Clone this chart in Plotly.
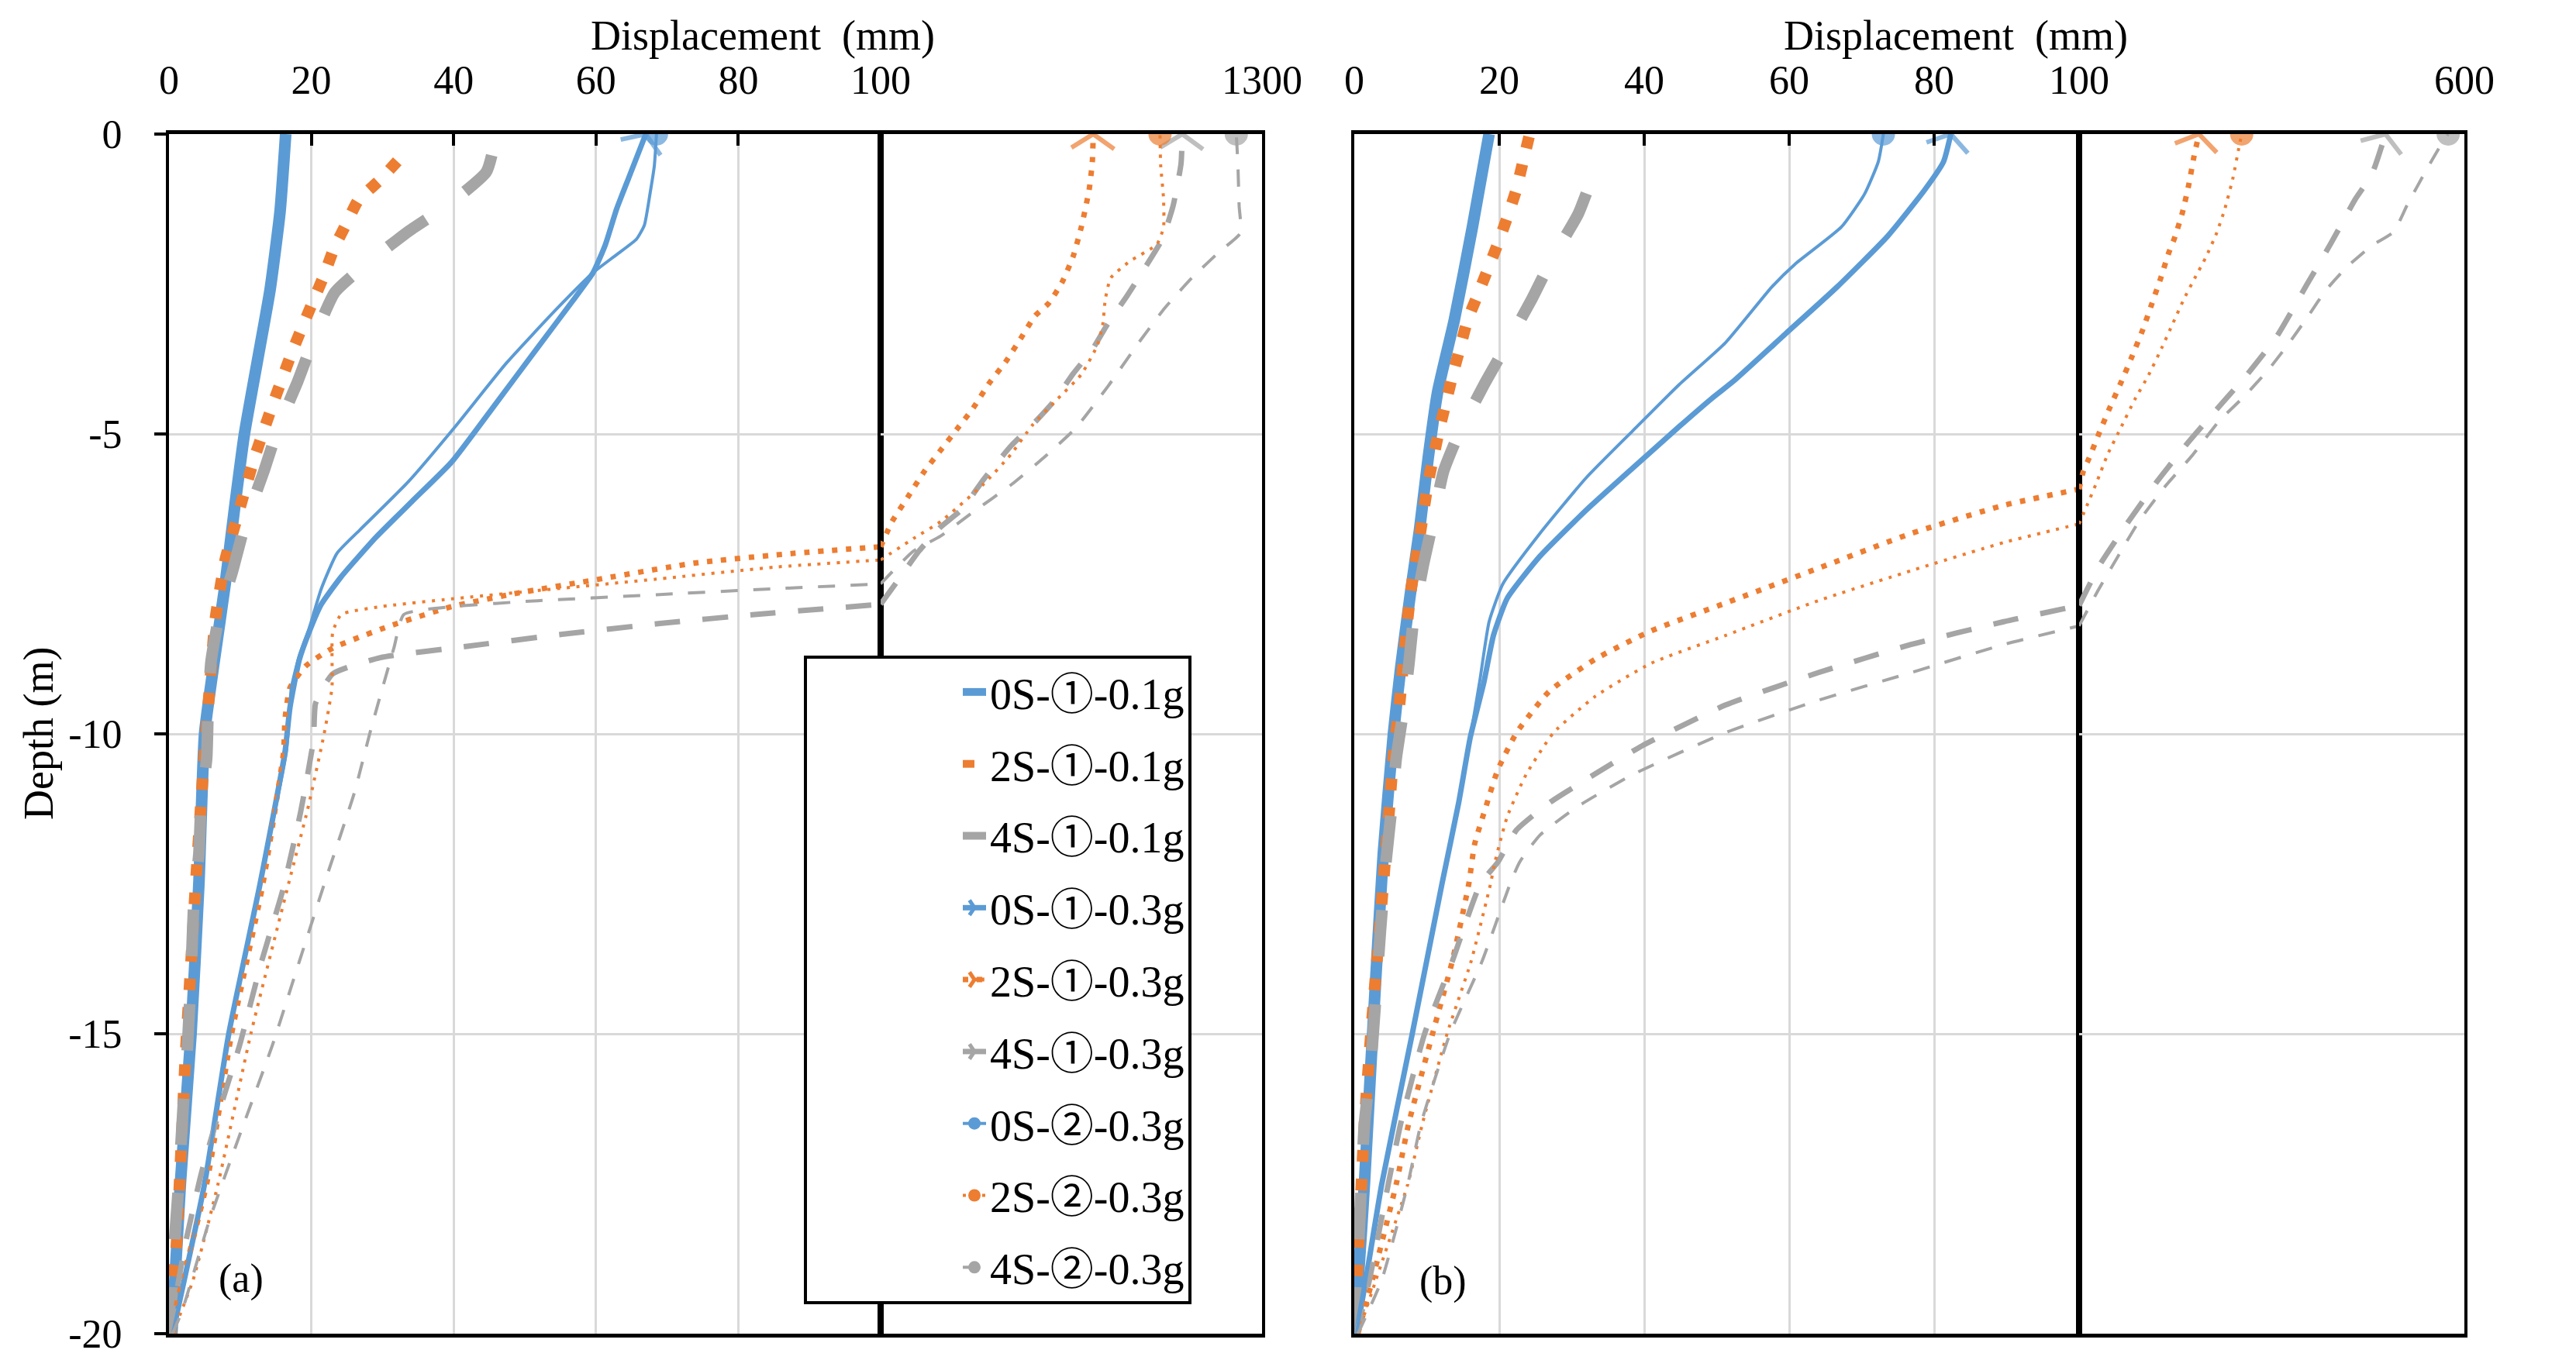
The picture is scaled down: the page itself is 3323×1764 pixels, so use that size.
import plotly.graph_objects as go

BLUE = "#5B9BD5"
ORANGE = "#ED7D31"
GRAY = "#A5A5A5"
FONT = "Liberation Serif, Noto Sans CJK SC, serif"

# axis ticks
x_ticks = [0, 20, 40, 60, 80, 100]
y_ticks = [0, -5, -10, -15, -20]
y_ticktext = ["0", "-5", "-10", "-15", "-20"]
a_xmax = 1300
b_xmax = 600

labels = ["0S-①-0.1g", "2S-①-0.1g", "4S-①-0.1g",
          "0S-①-0.3g", "2S-①-0.3g", "4S-①-0.3g",
          "0S-②-0.3g", "2S-②-0.3g", "4S-②-0.3g"]

# ---- panel (a): depth (m) and displacement (mm), listed bottom -> top ----
a_0s1_01_depth = [-20, -17.5, -15, -12.5, -10, -8.75, -7.5, -6.25, -5, -3.8, -2.6, -1.3, 0]
a_0s1_01_disp = [0.4, 1.6, 3.1, 4.2, 5.0, 6.4, 7.9, 9.2, 10.6, 12.4, 14.2, 15.6, 16.4]

a_2s1_01_depth = [-20, -19.1, -18.6, -17.2, -15.4, -14.0, -12.6, -10.8, -9.4, -8.1, -7.1, -6.3,
                  -5.4, -4.5, -3.6, -2.8, -2.35, -1.9, -1.5, -1.1, -0.77, -0.4]
a_2s1_01_disp = [0.3, 0.4, 1.0, 1.6, 2.3, 3.0, 3.7, 4.7, 5.6, 6.5, 7.9, 9.8,
                 12.0, 14.6, 17.4, 20.2, 21.8, 23.2, 24.9, 26.6, 29.6, 32.5]

a_4s1_01_depth = [-20, -18.6, -17.6, -16.2, -15.2, -14, -12.8, -12, -11.2, -10.4, -9.6, -8.8, -8.0,
                  -7.3, -6.5, -5.6, -4.91, -4.12, -3.43, -2.64, -2.14, -1.61, -1.19, -0.63, 0]
a_4s1_01_disp = [0.2, 0.7, 1.3, 2.0, 2.6, 3.1, 3.5, 4.2, 4.5, 5.3, 5.5, 5.9, 7.1,
                 8.9, 10.7, 13.4, 15.3, 18.1, 20.3, 23.3, 28.0, 33.8, 39.1, 44.6, 46.0]

a_0s1_03_depth = [-20, -17.5, -15, -12.5, -10.3, -9.56, -8.77, -8.3, -7.84, -7.38, -6.72, -6.13,
                  -5.47, -4.61, -3.56, -2.77, -2.31, -1.85, -1.25, -0.73, 0]
a_0s1_03_disp = [0.5, 5.0, 8.4, 12.8, 16.3, 17.0, 18.3, 19.7, 21.4, 24.2, 29.1, 34.1,
                 39.7, 45.2, 51.8, 56.8, 59.6, 61.3, 62.9, 64.6, 67.0]

a_2s1_03_depth = [-20, -19.5, -17.5, -15, -12.5, -10.3, -9.76, -9.23, -8.87, -8.57, -8.21, -7.88,
                  -7.65, -7.45, -7.15, -6.99, -6.88, -6.46, -6.04, -5.62, -5.27, -4.92, -4.57,
                  -4.15, -3.8, -3.38, -3.03, -2.82, -2.47, -2.05, -1.56, -0.93, -0.47, 0]
a_2s1_03_disp = [0.5, 1.1, 5.3, 8.8, 13.2, 16.1, 16.3, 17.0, 19.2, 23.0, 30.8, 39.7,
                 49.1, 59.0, 74.0, 87.8, 100, 136, 187, 238, 289, 340, 391,
                 442, 493, 544, 586, 629, 671, 705, 731, 756, 766, 769]

a_4s1_03_depth = [-20, -19.5, -18.5, -17.3, -16.2, -15.2, -13.8, -12.6, -11.3, -10.1, -9.49, -9.0,
                  -8.73, -8.54, -8.34, -8.16, -8.01, -7.84, -7.4, -6.95, -6.55, -6.25, -5.75,
                  -5.2, -4.8, -4.45, -4.0, -3.6, -3.15, -2.7, -2.2, -1.75, -1.2, -0.5, 0]
a_4s1_03_disp = [0.3, 0.8, 2.3, 4.6, 7.3, 9.9, 13.0, 16.0, 18.5, 20.3, 20.6, 23.0,
                 29.7, 41.9, 55.2, 69.0, 82.3, 100, 160, 221, 289, 357, 425,
                 510, 586, 646, 705, 765, 816, 875, 935, 986, 1020, 1045, 1049]

a_0s2_03_depth = [-20, -17.5, -15, -12.5, -10.3, -9.23, -8.7, -8.24, -7.58, -6.99, -6.59, -5.8,
                  -4.88, -3.82, -2.9, -2.31, -2.01, -1.75, -1.52, -0.99, -0.53, 0]
a_0s2_03_disp = [0.5, 5.0, 8.4, 12.8, 16.5, 17.2, 18.3, 19.7, 21.4, 23.6, 26.9, 33.6,
                 40.2, 47.4, 54.6, 59.6, 62.9, 65.7, 66.8, 67.6, 68.2, 68.5]

a_2s2_03_depth = [-20, -19.1, -17.5, -15, -12.5, -11.25, -10, -9.23, -8.31, -8.01, -7.88, -7.75,
                  -7.61, -7.42, -7.22, -7.1, -6.74, -6.46, -5.83, -5.34, -4.85, -4.43, -4.01,
                  -3.52, -3.17, -2.75, -2.4, -2.12, -1.84, -1.56, -1.07, -0.51, 0]
a_2s2_03_disp = [0.5, 3.4, 6.9, 11.5, 16.8, 19.5, 21.8, 22.9, 23.0, 24.2, 29.7, 39.7,
                 51.8, 68.5, 85.1, 100, 204, 289, 425, 510, 578, 654, 731,
                 782, 799, 807, 824, 884, 969, 990, 990, 981, 979]

a_4s2_03_depth = [-20, -19.6, -18.1, -16.7, -15.2, -13.8, -12.4, -11, -10, -9.36, -8.57, -8.01,
                  -7.88, -7.78, -7.68, -7.58, -7.5, -7.3, -6.95, -6.7, -6.3, -5.85, -5.4,
                  -4.9, -4.2, -3.5, -2.9, -2.4, -1.97, -1.65, -1.2, -0.5, 0]
a_4s2_03_disp = [0.5, 1.9, 5.7, 9.9, 14.5, 18.3, 22.1, 26.0, 28.2, 29.7, 31.6, 33.0,
                 39.7, 51.8, 68.5, 85.1, 100, 136, 204, 289, 391, 510, 612,
                 714, 816, 909, 994, 1079, 1164, 1232, 1228, 1224, 1219]

# ---- panel (b) ----
b_0s1_01_depth = [-20, -19, -17.5, -15.5, -14, -12, -10, -8.9, -7.7, -6.6, -5.4, -4.3, -3.1, -1.55, 0]
b_0s1_01_disp = [0.0, 0.6, 1.4, 2.3, 3.0, 4.0, 5.4, 6.4, 7.7, 9.0, 10.2, 11.5, 13.8, 16.3, 18.6]

b_2s1_01_depth = [-20, -18.5, -16.5, -15, -12.5, -11.3, -10.37, -9.44, -8.5, -7.62, -6.73, -5.8,
                  -5.34, -4.89, -4.45, -4.0, -3.56, -3.11, -2.69, -2.26, -1.83, -1.39, -0.95, -0.5, 0]
b_2s1_01_disp = [0.0, 0.6, 1.4, 2.3, 4.0, 4.8, 5.4, 6.3, 7.0, 7.8, 9.0, 10.2,
                 11.0, 11.8, 12.7, 13.6, 14.6, 15.6, 17.0, 18.4, 19.8, 21.1, 22.3, 23.2, 24.2]

b_4s1_01_depth = [-20, -18.5, -16.5, -15.5, -13.3, -12.1, -11.3, -10.4, -9.67, -8.82, -8.07, -7.2,
                  -6.49, -5.63, -5.0, -4.18, -3.56, -2.75, -2.1, -1.33, -0.6]
b_4s1_01_disp = [0.0, 0.6, 1.4, 2.3, 3.6, 4.4, 5.1, 5.8, 6.7, 7.55, 8.2, 9.5,
                 10.8, 12.3, 14.4, 17.9, 20.8, 24.5, 27.2, 30.9, 33.2]

b_0s1_03_depth = [-20, -19.1, -17.5, -15, -12.5, -11.15, -10.06, -9.13, -8.36, -7.74, -7.04, -6.27,
                  -5.57, -4.88, -4.41, -4.1, -3.33, -2.55, -1.7, -0.93, -0.46, 0]
b_0s1_03_disp = [0.3, 1.6, 3.8, 8.0, 12.1, 14.4, 16.0, 17.9, 19.2, 21.1, 25.6, 32.0,
                 38.4, 44.8, 49.3, 52.5, 59.5, 66.6, 73.6, 78.7, 81.3, 82.3]

b_2s1_03_depth = [-20, -19.1, -17.5, -16.5, -15, -13.8, -12.5, -11.84, -11.2, -10.6, -9.98, -9.29,
                  -8.75, -8.28, -7.82, -7.24, -6.66, -6.19, -5.92, -5.63, -5.4, -4.97, -4.54,
                  -4.13, -3.7, -3.27, -2.83, -2.4, -1.97, -1.74, -1.3, -0.84, -0.38, 0]
b_2s1_03_disp = [0.5, 2.5, 5.8, 7.5, 10.8, 13.5, 15.8, 16.6, 18.2, 19.8, 22.4, 26.9,
                 33.3, 41.0, 51.2, 64.0, 76.8, 89.6, 100, 105.3, 113.1, 126.5, 140.6,
                 154.8, 168.9, 182.4, 194.4, 206, 216.6, 223.7, 234.3, 242.4, 249, 255.5]

b_4s1_03_depth = [-20, -19.1, -17.5, -16.5, -15, -13.8, -12.5, -12.14, -11.6, -11.15, -10.76, -10.2,
                  -9.52, -8.98, -8.51, -8.13, -7.86, -7.19, -6.5, -5.8, -5.17, -4.59, -4.02,
                  -3.38, -2.52, -1.82, -1.08, -0.67, 0]
b_4s1_03_disp = [0.3, 2.1, 4.7, 6.4, 9.7, 13.5, 17.4, 19.8, 22.4, 26.9, 32.0, 39.7,
                 51.2, 64.0, 76.8, 89.6, 100, 126.5, 161.9, 200.7, 239.6, 278.5, 317.3,
                 356.2, 395.1, 426.9, 458.7, 480, 497.6]

b_0s2_03_depth = [-20, -19.1, -17.5, -15, -12.5, -11.15, -10.06, -9.13, -8.13, -7.5, -6.66, -5.73,
                  -4.95, -4.18, -3.48, -2.55, -2.17, -1.55, -1.0, -0.46, 0]
b_0s2_03_disp = [0.3, 1.6, 3.8, 8.0, 12.1, 14.4, 16.0, 17.3, 18.6, 20.5, 25.6, 32.0,
                 38.4, 44.8, 51.2, 57.6, 60.8, 67.2, 70.4, 72.3, 73.0]

b_2s2_03_depth = [-20, -19.1, -17.5, -16.5, -15, -13.8, -12.5, -12.14, -11.38, -10.68, -9.98, -9.37,
                  -8.82, -8.36, -7.78, -7.28, -6.81, -6.5, -6.2, -5.8, -5.34, -4.88, -4.42,
                  -4.02, -3.55, -3.15, -2.75, -2.4, -2.06, -1.65, -1.25, -0.73, -0.27, 0]
b_2s2_03_disp = [0.5, 3.0, 7.4, 9.4, 12.8, 16.1, 18.8, 19.4, 21.1, 23.7, 27.5, 33.3,
                 41.0, 51.2, 64.0, 76.8, 89.6, 100, 110, 123, 137.1, 154.8, 172.5,
                 190.1, 207.8, 221.9, 236.1, 250.2, 264.3, 278.5, 289.1, 299.7, 306.7, 311]

b_4s2_03_depth = [-20, -19.1, -17.5, -16.5, -15, -13.8, -12.5, -12.14, -11.69, -11.22, -10.68, -9.98,
                  -9.44, -8.98, -8.51, -8.2, -7.6, -7.05, -6.45, -5.88, -5.36, -4.78, -4.38,
                  -3.93, -3.46, -3.01, -2.61, -2.21, -1.86, -1.63, -1.18, -0.6, -0.21, 0]
b_4s2_03_disp = [0.5, 3.8, 7.4, 9.2, 13.2, 17.6, 21.5, 22.8, 25.6, 30.7, 38.4, 51.2,
                 64.0, 76.8, 89.6, 100, 125, 150, 178, 211.3, 246.7, 282, 313.8,
                 345.6, 373.9, 398.6, 419.8, 448.1, 479.9, 508.2, 525.9, 550.6, 568.3, 579]

panel_a = [(a_0s1_01_disp, a_0s1_01_depth), (a_2s1_01_disp, a_2s1_01_depth), (a_4s1_01_disp, a_4s1_01_depth),
           (a_0s1_03_disp, a_0s1_03_depth), (a_2s1_03_disp, a_2s1_03_depth), (a_4s1_03_disp, a_4s1_03_depth),
           (a_0s2_03_disp, a_0s2_03_depth), (a_2s2_03_disp, a_2s2_03_depth), (a_4s2_03_disp, a_4s2_03_depth)]
panel_b = [(b_0s1_01_disp, b_0s1_01_depth), (b_2s1_01_disp, b_2s1_01_depth), (b_4s1_01_disp, b_4s1_01_depth),
           (b_0s1_03_disp, b_0s1_03_depth), (b_2s1_03_disp, b_2s1_03_depth), (b_4s1_03_disp, b_4s1_03_depth),
           (b_0s2_03_disp, b_0s2_03_depth), (b_2s2_03_disp, b_2s2_03_depth), (b_4s2_03_disp, b_4s2_03_depth)]

# line style per series: colour, width, dash, end marker
styles = [
    (BLUE, 15, "solid", None),
    (ORANGE, 15, "15px,22px", None),
    (GRAY, 15, "60px,62px", None),
    (BLUE, 7, "solid", "arrow"),
    (ORANGE, 7, "7px,11px", "arrow"),
    (GRAY, 7, "33px,29px", "arrow"),
    (BLUE, 4, "solid", "dot"),
    (ORANGE, 4, "4px,8.5px", "dot"),
    (GRAY, 4, "22px,20px", "dot"),
]

W, H = 3323, 1764
Y_DOM = [(H - 1713) / H, (H - 165) / H]

fig = go.Figure()


def end_marker(color, end, sizes):
    if end == "arrow":
        return dict(symbol="y-up", size=sizes, angleref="previous", color=color,
                    line=dict(color=color, width=6))
    return dict(symbol="circle", size=sizes, color=color, line=dict(width=0))


def add_series(disp, depth, style, left_ax, right_ax):
    color, width, dash, end = style
    pts = list(zip(disp, depth))
    parts = [([p for p in pts if p[0] <= 100], left_ax),
             ([p for p in pts if p[0] >= 100], right_ax)]
    for part, (xa, ya) in parts:
        if len(part) < 2:
            continue
        has_top = end is not None and part[-1] == pts[-1]
        sizes = [0] * (len(part) - 1) + [(30 if end == "dot" else 46) if has_top else 0]
        fig.add_trace(go.Scatter(
            x=[p[0] for p in part], y=[p[1] for p in part],
            xaxis=xa, yaxis=ya,
            mode="lines+markers" if end else "lines",
            line=dict(color=color, width=width, dash=dash, shape="spline", smoothing=0.5),
            marker=end_marker(color, end, sizes) if end else None,
            showlegend=False, hoverinfo="skip",
        ))


for (disp, depth), style in zip(panel_a, styles):
    add_series(disp, depth, style, ("x", "y"), ("x2", "y2"))
for (disp, depth), style in zip(panel_b, styles):
    add_series(disp, depth, style, ("x3", "y3"), ("x4", "y4"))

# legend entries
for name, (color, width, dash, end) in zip(labels, styles):
    marker = None
    if end == "arrow":
        marker = dict(symbol="y-up", size=22, angle=90, color=color, line=dict(color=color, width=5))
    elif end == "dot":
        marker = dict(symbol="circle", size=16, color=color)
    fig.add_trace(go.Scatter(
        x=[None], y=[None], name=name, legendgroup=name,
        mode="lines+markers" if end else "lines",
        line=dict(color=color, width=width, dash=dash),
        marker=marker,
    ))

tick_font = dict(family=FONT, size=52, color="black")


def left_x(dom, anchor):
    return dict(domain=dom, anchor=anchor, range=[0, 100], side="top",
                tickmode="array", tickvals=x_ticks, ticks="inside", ticklen=15, tickwidth=4,
                tickcolor="black", showgrid=True, gridcolor="#D9D9D9", gridwidth=3,
                showline=True, linecolor="black", linewidth=5, mirror=True, zeroline=False,
                tickfont=tick_font, ticklabelstandoff=26, automargin=False)


def right_x(dom, anchor, xmax):
    return dict(domain=dom, anchor=anchor, range=[100, xmax], side="top",
                tickmode="array", tickvals=[xmax], ticks="", showgrid=False,
                showline=True, linecolor="black", linewidth=5, mirror=True, zeroline=False,
                tickfont=tick_font, ticklabelstandoff=26, automargin=False)


def y_ax(anchor, show_labels):
    return dict(domain=Y_DOM, anchor=anchor, range=[-20, 0],
                tickmode="array", tickvals=y_ticks, ticktext=y_ticktext,
                ticks="outside" if show_labels else "", ticklen=15, tickwidth=4, tickcolor="black",
                showticklabels=show_labels, showgrid=True, gridcolor="#D9D9D9", gridwidth=3,
                showline=True, linecolor="black", linewidth=4, mirror=True, zeroline=False,
                tickfont=tick_font, ticklabelstandoff=31, automargin=False)


def label(text, x, y, size=54, angle=0):
    return dict(text=text, x=x / W, y=1 - y / H, xref="paper", yref="paper",
                xanchor="center", yanchor="middle", textangle=angle, showarrow=False,
                font=dict(family=FONT, size=size, color="black"))


fig.update_layout(
    width=W, height=H, autosize=False,
    margin=dict(l=0, r=0, t=0, b=0, pad=0),
    paper_bgcolor="white", plot_bgcolor="white",
    xaxis=left_x([210 / W, 1128 / W], "y"),
    xaxis2=right_x([1128 / W, 1620 / W], "y2", a_xmax),
    xaxis3=left_x([1739 / W, 2674 / W], "y3"),
    xaxis4=right_x([2674 / W, 3171 / W], "y4", b_xmax),
    yaxis=y_ax("x", True),
    yaxis2=y_ax("x2", False),
    yaxis3=y_ax("x3", False),
    yaxis4=y_ax("x4", False),
    legend=dict(x=1029 / W, y=1 - 838 / H, xanchor="left", yanchor="top",
                bgcolor="white", bordercolor="black", borderwidth=4,
                font=dict(family=FONT, size=56, color="black"),
                traceorder="grouped", tracegroupgap=17, itemwidth=30, indentation=196),
    annotations=[
        label("Displacement\u2002(mm)", 976, 38),
        label("Displacement\u2002(mm)", 2515, 38),
        label("Depth (m)", 42, 939, angle=-90),
        label("(a)", 303, 1642, size=52),
        label("(b)", 1853, 1645, size=52),
    ],
)

fig.write_html("out.html")
